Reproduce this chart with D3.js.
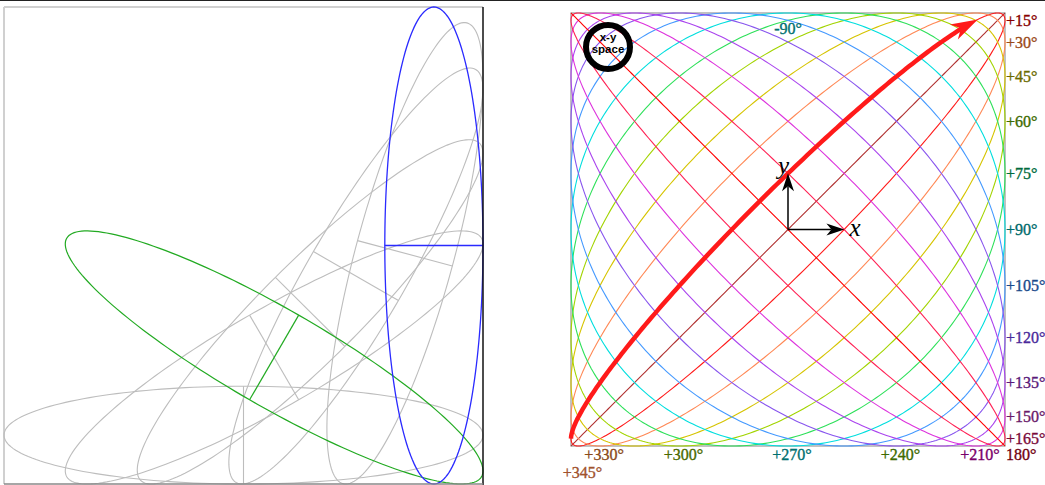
<!DOCTYPE html>
<html><head><meta charset="utf-8">
<script src="https://cdn.jsdelivr.net/npm/d3@7"></script>
<style>body{margin:0;background:#fff;} svg{display:block;}</style>
</head><body>
<svg id="chart" width="1045" height="485"></svg>
<script>
// ---------- Left panel: one polarization ellipse shape at several orientations ----------
const ellipseAxes = [1, 0.205];            // semi-major, semi-minor
const grayAngles = [0, 30, 45, 60, 75];    // orientation of the major axis, degrees
const greenAngle = -30;
const blueAngle = 90;

// ---------- Right panel: x = cos t, y = cos(t + phase) ----------
const phases = [0, 15, 30, 45, 60, 75, 90, 105, 120, 135, 150, 165, 180];
const phaseColors = ["#b03030", "#ff1a1a", "#ff8855", "#d6c400", "#a2d400", "#2ee05a",
  "#00dede", "#4499ff", "#8855ee", "#aa44ee", "#dd33dd", "#ff2255", "#ff0000"];

const rightLabelPhases = [15, 30, 45, 60, 75, 90, 105, 120, 135, 150, 165];
const rightLabelText = ["+15°", "+30°", "+45°", "+60°", "+75°", "+90°", "+105°", "+120°", "+135°", "+150°", "+165°"];
const rightLabelColors = ["#880000", "#9a4a1a", "#6b6b00", "#3d6b00", "#006b3d", "#006b6b",
  "#1a4a8b", "#4a2a9a", "#5a1a7a", "#6a1a6a", "#7a0a3a"];

const bottomLabelPhases = [210, 240, 270, 300, 330, 345];
const bottomLabelText = ["+210°", "+240°", "+270°", "+300°", "+330°", "+345°"];
const bottomLabelColors = ["#7a006a", "#3d6b00", "#007070", "#4a6a00", "#8a4a1a", "#a0522d"];

const cornerLabel = {phase: 180, text: "180°", color: "#700010"};
const topLabel = {phase: -90, text: "-90°", color: "#007070"};

const arrowPhase = 15;          // highlighted trajectory
const arrowSpan = [-180, -29];  // parameter range of the highlighted half, degrees

const rad = d => d * Math.PI / 180;
const svg = d3.select("#chart");

// thin dark rule along the top of the figure
svg.append("line").attr("x1", 0).attr("x2", 1045).attr("y1", 0.5).attr("y2", 0.5)
  .attr("stroke", "#222").attr("stroke-width", 1);

// ===== Left panel =====
const lx = d3.scaleLinear().domain([0, 2]).range([4, 483]);
const ly = d3.scaleLinear().domain([0, 2]).range([484, 7]);
const left = svg.append("g");

left.append("line").attr("x1", 4).attr("x2", 483).attr("y1", 7).attr("y2", 7)
  .attr("stroke", "#d0d0d0").attr("stroke-width", 2);
left.append("line").attr("x1", 4).attr("x2", 4).attr("y1", 7).attr("y2", 484)
  .attr("stroke", "#d0d0d0").attr("stroke-width", 2);

const [A, B] = ellipseAxes;
function ellipseGeom(angleDeg) {
  const th = rad(angleDeg), c = Math.cos(th), s = Math.sin(th);
  const hx = Math.sqrt(A * A * c * c + B * B * s * s);
  const hy = Math.sqrt(A * A * s * s + B * B * c * c);
  const cx = 2 - hx, cy = hy;   // resting against the right and bottom sides
  const pts = d3.range(0, 361, 2).map(k => {
    const u = rad(k);
    return [cx + A * Math.cos(u) * c - B * Math.sin(u) * s,
            cy + A * Math.cos(u) * s + B * Math.sin(u) * c];
  });
  const minor = [[cx + B * s, cy - B * c], [cx - B * s, cy + B * c]];
  return {pts, minor};
}
const lLine = d3.line().x(d => lx(d[0])).y(d => ly(d[1]));

function drawLeftEllipse(angle, color, w) {
  const g = ellipseGeom(angle);
  left.append("path").attr("d", lLine(g.pts) + "Z").attr("fill", "none")
    .attr("stroke", color).attr("stroke-width", w);
  left.append("path").attr("d", lLine(g.minor)).attr("fill", "none")
    .attr("stroke", color).attr("stroke-width", w);
}
grayAngles.forEach(a => drawLeftEllipse(a, "#bdbdbd", 1.1));
drawLeftEllipse(greenAngle, "#22aa22", 1.2);
drawLeftEllipse(blueAngle, "#2a2aff", 1.3);

left.append("line").attr("x1", 483).attr("x2", 483).attr("y1", 7).attr("y2", 485)
  .attr("stroke", "#111").attr("stroke-width", 1.5);
left.append("line").attr("x1", 4).attr("x2", 483).attr("y1", 484).attr("y2", 484)
  .attr("stroke", "#888").attr("stroke-width", 1.5);

// ===== Right panel =====
const rx = d3.scaleLinear().domain([-1, 1]).range([571, 1005]);
const ry = d3.scaleLinear().domain([-1, 1]).range([446, 13]);
const right = svg.append("g");
const rLine = d3.line().x(d => rx(d[0])).y(d => ry(d[1]));
const traj = (ph, t0, t1, step) => d3.range(t0, t1 + step / 2, step)
  .map(t => [Math.cos(rad(t)), Math.cos(rad(t + ph))]);

right.append("rect").attr("x", rx(-1)).attr("y", ry(1))
  .attr("width", rx(1) - rx(-1)).attr("height", ry(-1) - ry(1))
  .attr("fill", "none").attr("stroke", "#999").attr("stroke-width", 1.2);

phases.forEach((ph, i) => {
  right.append("path").attr("d", rLine(traj(ph, 0, 360, 1)))
    .attr("fill", "none").attr("stroke", phaseColors[i]).attr("stroke-width", 1.1);
});

// highlighted half trajectory with arrowhead
const arrowColor = phaseColors[phases.indexOf(arrowPhase)];
const tipPt = [rx(Math.cos(rad(arrowSpan[1]))), ry(Math.cos(rad(arrowSpan[1] + arrowPhase)))];
const prevPt = [rx(Math.cos(rad(arrowSpan[1] - 3))), ry(Math.cos(rad(arrowSpan[1] - 3 + arrowPhase)))];
let ux = tipPt[0] - prevPt[0], uy = tipPt[1] - prevPt[1];
const ul = Math.hypot(ux, uy); ux /= ul; uy /= ul;
const nx = -uy, ny = ux;
right.append("path").attr("d", rLine(traj(arrowPhase, arrowSpan[0], arrowSpan[1] - 8, 1)))
  .attr("fill", "none").attr("stroke", arrowColor).attr("stroke-width", 4.5)
  .attr("stroke-linecap", "butt");
const headL = 27, headW = 8.5, notch = 8;
right.append("polygon").attr("fill", arrowColor).attr("points", [
  tipPt,
  [tipPt[0] - headL * ux + headW * nx, tipPt[1] - headL * uy + headW * ny],
  [tipPt[0] - (headL - notch) * ux, tipPt[1] - (headL - notch) * uy],
  [tipPt[0] - headL * ux - headW * nx, tipPt[1] - headL * uy - headW * ny]
].map(p => p.join(",")).join(" "));

// coordinate axes
const axisLen = 0.26;
function axisArrow(x2, y2) {
  const x1 = rx(0), y1 = ry(0);
  const X2 = rx(x2), Y2 = ry(y2);
  let dx = X2 - x1, dy = Y2 - y1; const l = Math.hypot(dx, dy); dx /= l; dy /= l;
  const px = -dy, py = dx, L = 18, W = 6, N = 5;
  right.append("line").attr("x1", x1).attr("y1", y1)
    .attr("x2", X2 - (L - N) * dx).attr("y2", Y2 - (L - N) * dy)
    .attr("stroke", "#000").attr("stroke-width", 1.5);
  right.append("polygon").attr("fill", "#000").attr("points", [
    [X2, Y2], [X2 - L * dx + W * px, Y2 - L * dy + W * py],
    [X2 - (L - N) * dx, Y2 - (L - N) * dy], [X2 - L * dx - W * px, Y2 - L * dy - W * py]
  ].map(p => p.join(",")).join(" "));
}
axisArrow(axisLen, 0);
axisArrow(0, axisLen);
right.append("text").attr("x", rx(axisLen) + 5).attr("y", ry(0) + 6)
  .attr("font-family", "Liberation Serif").attr("font-style", "italic")
  .attr("font-size", 25).text("x");
right.append("text").attr("x", rx(0) - 10).attr("y", ry(axisLen) + 1)
  .attr("font-family", "Liberation Serif").attr("font-style", "italic")
  .attr("font-size", 25).text("y");

// phase labels
const labelFont = {family: "Liberation Serif", size: 16};
function label(x, y, txt, color, anchor) {
  right.append("text").attr("x", x).attr("y", y).attr("text-anchor", anchor)
    .attr("font-family", labelFont.family).attr("font-size", labelFont.size)
    .attr("fill", color).attr("stroke", color).attr("stroke-width", 0.35).text(txt);
}
rightLabelPhases.forEach((ph, i) => {
  label(rx(1) + 1, ry(Math.cos(rad(ph))) + 5.5, rightLabelText[i], rightLabelColors[i], "start");
});
let lastX = null;
bottomLabelPhases.forEach((ph, i) => {
  const x = rx(-Math.cos(rad(ph))) + 4;
  const crowded = lastX !== null && Math.abs(lastX - x) < 30;
  // a label too close to its neighbour drops onto a second row
  label(x, ry(-1) + 14 + (crowded ? 18 : 0), bottomLabelText[i], bottomLabelColors[i], "middle");
  lastX = x;
});
label(rx(1) + 1, ry(-1) + 14, cornerLabel.text, cornerLabel.color, "start");
label(rx(Math.cos(rad(topLabel.phase))), ry(1) + 21, topLabel.text, topLabel.color, "middle");

// "x-y space" badge
const badge = right.append("g").attr("transform", "translate(608,47)");
badge.append("circle").attr("r", 22).attr("fill", "none")
  .attr("stroke", "#000").attr("stroke-width", 6);
badge.append("text").attr("y", -6).attr("text-anchor", "middle")
  .attr("font-family", "Liberation Sans").attr("font-weight", "bold")
  .attr("font-size", 11.5).text("x-y");
badge.append("text").attr("y", 6).attr("text-anchor", "middle")
  .attr("font-family", "Liberation Sans").attr("font-weight", "bold")
  .attr("font-size", 11.5).text("space");
</script>
</body></html>
